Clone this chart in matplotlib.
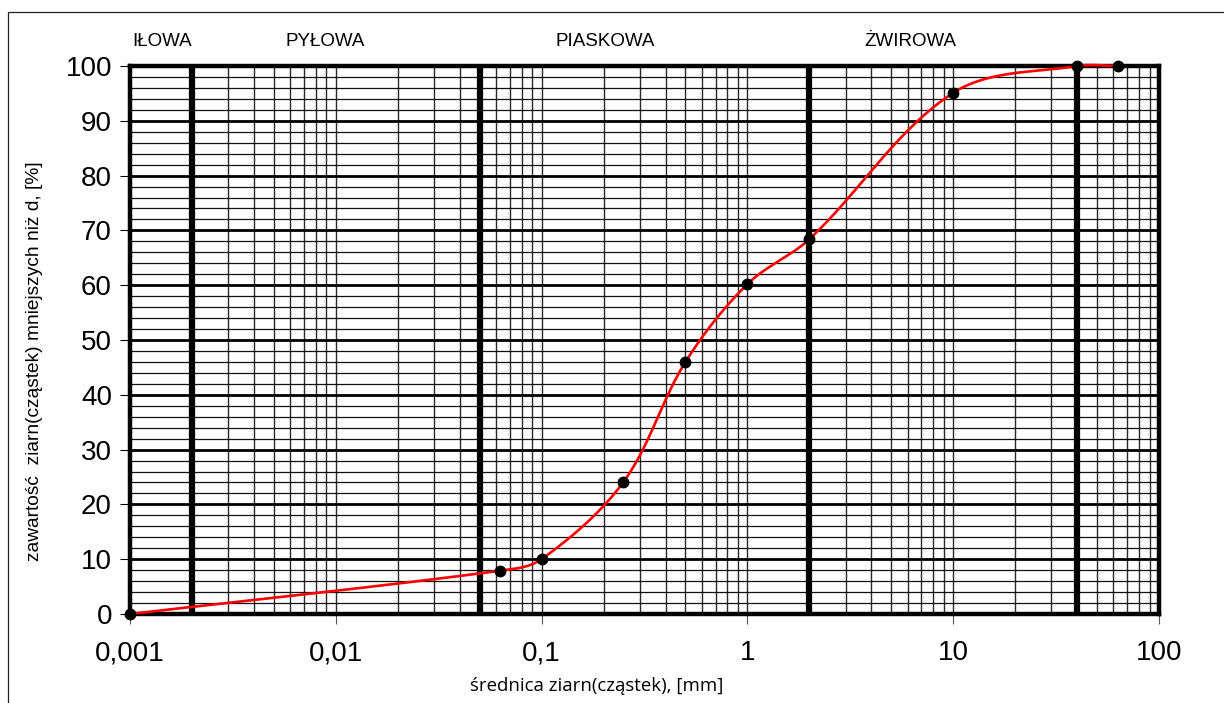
import numpy as np
import matplotlib.pyplot as plt
from matplotlib.patches import Rectangle
from matplotlib.ticker import FixedLocator, NullFormatter

# sieve analysis data
d_mm = [0.001, 0.063, 0.1, 0.25, 0.5, 1.0, 2.0, 10.0, 40.0, 63.0]
passing = [0.0, 7.9, 10.0, 24.1, 46.0, 60.2, 68.4, 95.1, 100.0, 100.0]

zone_bounds = [0.002, 0.05, 2.0, 40.0]
zone_names = ['IŁOWA', 'PYŁOWA', 'PIASKOWA', 'ŻWIROWA']
zone_label_x = [0.00143, 0.0089, 0.203, 6.2]

xtick_vals = [0.001, 0.01, 0.1, 1, 10, 100]
xtick_labels = ['0,001', '0,01', '0,1', '1', '10', '100']

plt.rcParams['font.family'] = ['Liberation Sans', 'DejaVu Sans']

W, H = 1224, 703
fig = plt.figure(figsize=(W / 100, H / 100), dpi=100)
ax = fig.add_axes([130 / W, 1 - 614 / H, 1029 / W, 548 / H])

# outer chart border (cropped at right/bottom)
fig.patches.append(Rectangle((8 / W, -0.1), 1.2, 1.1 - 12 / H,
                             transform=fig.transFigure, fill=False,
                             edgecolor='#222222', lw=0.9))


# Excel-like smoothing: bezier, tangent along neighbours, length ~ segment/3
def smooth(xs, ys, n=60):
    sx, sy = 205.8, 5.48
    P = np.column_stack([np.log10(xs) * sx, np.array(ys) * sy])
    m = len(P)
    tang = []
    for i in range(m):
        a = P[i - 1] if i > 0 else P[i]
        b = P[i + 1] if i < m - 1 else P[i]
        v = b - a
        tang.append(v / np.linalg.norm(v))
    out = [P[0]]
    for i in range(m - 1):
        p1, p2 = P[i], P[i + 1]
        d = np.linalg.norm(p2 - p1)
        c1 = p1 + tang[i] * d / 3
        c2 = p2 - tang[i + 1] * d / 3
        t = np.linspace(0, 1, n)[1:, None]
        seg = ((1 - t) ** 3 * p1 + 3 * (1 - t) ** 2 * t * c1
               + 3 * (1 - t) * t ** 2 * c2 + t ** 3 * p2)
        out.extend(seg)
    out = np.array(out)
    return 10 ** (out[:, 0] / sx), out[:, 1] / sy


ax.set_xscale('log')
ax.set_xlim(0.001, 100)
ax.set_ylim(0, 100)

# grid
minor_x = [m * 10.0 ** e for e in range(-3, 2) for m in range(2, 10)]
for xv in minor_x + xtick_vals[1:-1]:
    ax.axvline(xv, color='#2a2a2a', lw=1.0, zorder=1)
for yv in range(2, 100, 2):
    if yv % 10:
        ax.axhline(yv, color='#111111', lw=0.9, zorder=1)
    else:
        ax.axhline(yv, color='black', lw=2.0, zorder=1)
for xb in zone_bounds:
    ax.axvline(xb, color='black', lw=4.5, zorder=2)

for s in ax.spines.values():
    s.set_linewidth(3.2)
    s.set_zorder(3)

sx_, sy_ = smooth(d_mm, passing)
ax.plot(sx_, sy_, color='red', lw=1.9, zorder=4, clip_on=False)
ax.plot(d_mm, passing, 'o', color='black', ms=7.5, zorder=5, clip_on=False)

ax.xaxis.set_major_locator(FixedLocator(xtick_vals))
ax.xaxis.set_minor_locator(FixedLocator([]))
ax.xaxis.set_minor_formatter(NullFormatter())
ax.set_xticklabels(xtick_labels)
ax.set_yticks(range(0, 101, 10))
ax.tick_params(axis='both', which='major', labelsize=20, direction='out',
               length=7, width=0.8, color='#555555')
ax.tick_params(axis='y', pad=6, color='black')
ax.tick_params(axis='x', pad=12)

ax.set_xlabel('średnica ziarn(cząstek), [mm]', fontsize=13.4,
              family=['Open Sans', 'DejaVu Sans'])
ax.xaxis.set_label_coords((597 - 130) / 1029, -(686 - 614) / 548)
ax.xaxis.label.set_va('center')
ax.set_ylabel('zawartość  ziarn(cząstek) mniejszych niż d, [%]', fontsize=13.8)
ax.yaxis.set_label_coords(-(130 - 35) / 1029, (614 - 361) / 548)
ax.yaxis.label.set_va('center')

for name, xl in zip(zone_names, zone_label_x):
    ax.text(xl, (614 - 42) / 548, name, transform=ax.get_xaxis_transform(),
            ha='center', va='center', fontsize=13.5)

fig.savefig('out.png', dpi=100)
